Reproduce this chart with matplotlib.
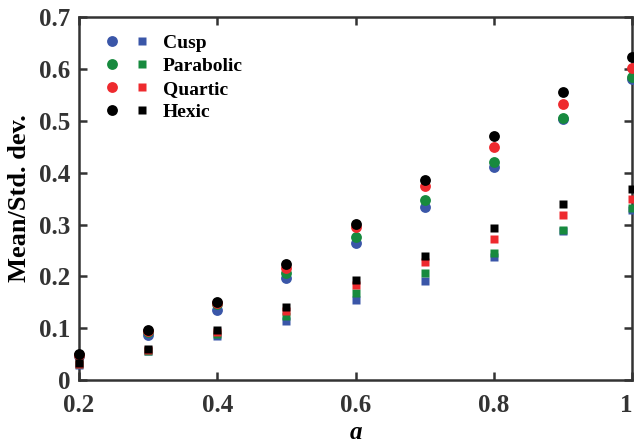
import matplotlib
matplotlib.use("Agg")
import matplotlib.pyplot as plt
import matplotlib.transforms as mtransforms
from matplotlib.legend_handler import HandlerTuple

a = [0.2, 0.3, 0.4, 0.5, 0.6, 0.7, 0.8, 0.9, 1.0]

# circles (mean) and squares (std. dev.)
cusp_mean = [0.047, 0.087, 0.135, 0.196, 0.264, 0.334, 0.411, 0.503, 0.580]
cusp_std = [0.030, 0.056, 0.085, 0.114, 0.154, 0.191, 0.237, 0.287, 0.328]
para_mean = [0.048, 0.092, 0.147, 0.207, 0.276, 0.348, 0.420, 0.505, 0.585]
para_std = [0.031, 0.057, 0.088, 0.124, 0.168, 0.207, 0.246, 0.289, 0.331]
quart_mean = [0.049, 0.094, 0.148, 0.217, 0.296, 0.375, 0.450, 0.532, 0.601]
quart_std = [0.032, 0.059, 0.092, 0.134, 0.183, 0.228, 0.273, 0.318, 0.350]
hexic_mean = [0.051, 0.096, 0.151, 0.223, 0.301, 0.386, 0.470, 0.556, 0.622]
hexic_std = [0.033, 0.060, 0.096, 0.141, 0.193, 0.239, 0.294, 0.339, 0.368]

names = ["Cusp", "Parabolic", "Quartic", "Hexic"]
colors = ["#3a56a8", "#178a3e", "#ee2a2e", "#000000"]
means = [cusp_mean, para_mean, quart_mean, hexic_mean]
stds = [cusp_std, para_std, quart_std, hexic_std]

plt.rcParams["font.family"] = ["Liberation Serif", "DejaVu Serif"]
plt.rcParams["font.weight"] = "bold"

fig = plt.figure(figsize=(6.34, 4.41), dpi=100)
ax = fig.add_axes([0.1246, 0.138, 0.8724, 0.8235])

handles = []
for name, c, m, s in zip(names, colors, means, stds):
    h1, = ax.plot(a, m, "o", color=c, ms=7.8, mec="none", clip_on=False, zorder=3)
    h2, = ax.plot(a, s, "s", color=c, ms=6.3, mec="none", clip_on=False, zorder=3)
    handles.append((h1, h2))

ax.set_xlim(0.2, 1.0)
ax.set_ylim(0, 0.7)
ax.set_xticks([0.2, 0.4, 0.6, 0.8, 1.0])
ax.set_xticklabels(["0.2", "0.4", "0.6", "0.8", "1"])
ax.set_yticks([0, 0.1, 0.2, 0.3, 0.4, 0.5, 0.6, 0.7])
ax.set_yticklabels(["0", "0.1", "0.2", "0.3", "0.4", "0.5", "0.6", "0.7"])
ax.tick_params(direction="in", top=True, right=True, length=6, width=1.8,
               color="#333333", labelsize=18)
ax.tick_params(axis="x", pad=10)
ax.tick_params(axis="y", pad=6)
for lab in ax.get_xticklabels() + ax.get_yticklabels():
    lab.set_fontweight("bold")
    lab.set_color("#333333")
for sp in ax.spines.values():
    sp.set_linewidth(1.8)
    sp.set_color("#333333")

# last x label sits at the figure edge, nudge it in a bit
last = ax.get_xticklabels()[-1]
last.set_transform(last.get_transform() + mtransforms.ScaledTranslation(-4 / 72, 0, fig.dpi_scale_trans))

ax.set_xlabel("a", fontsize=18, fontweight="bold", style="italic", labelpad=3)
ax.set_ylabel("Mean/Std. dev.", fontsize=19, fontweight="bold", labelpad=6)

leg = ax.legend(handles, names, handler_map={tuple: HandlerTuple(ndivide=None, pad=0.82)},
                loc="upper left", bbox_to_anchor=(0.015, 1.0), frameon=False,
                handlelength=2.27, handletextpad=0.72, labelspacing=0.28,
                prop={"size": 14, "weight": "bold"})

fig.savefig("out.png", dpi=100)
